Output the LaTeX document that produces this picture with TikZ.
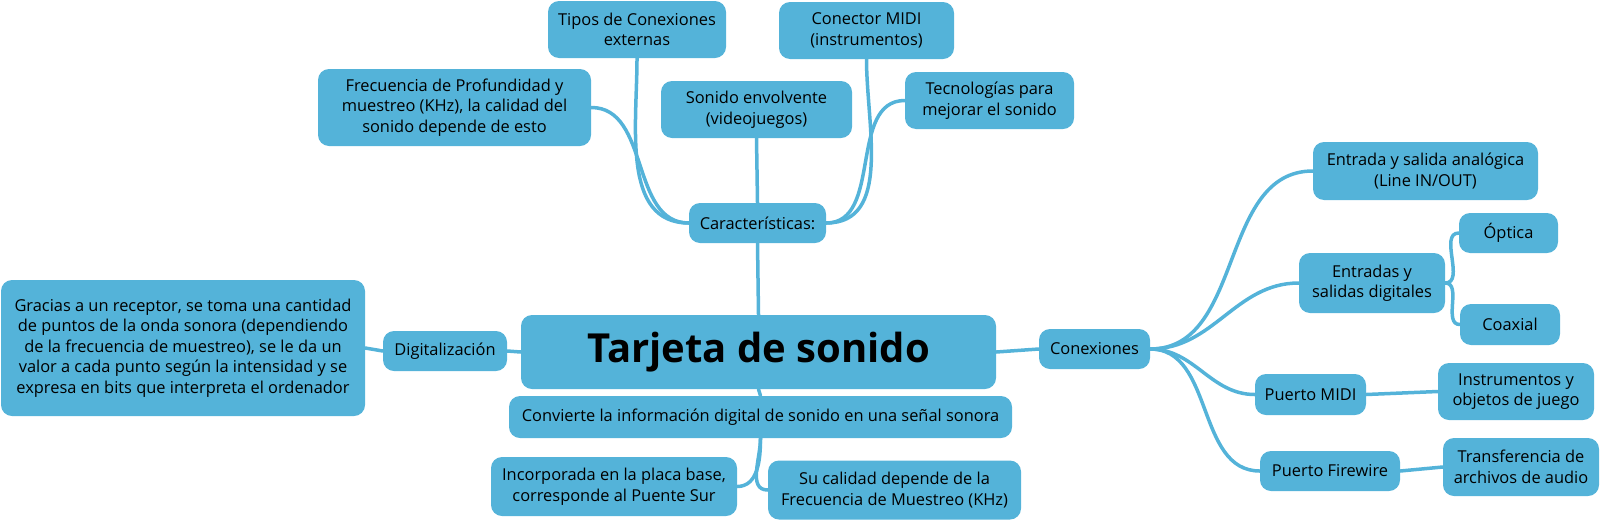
\documentclass[tikz,border=0pt]{standalone}
\usepackage{fontspec}
\setmainfont{Open Sans}
\usetikzlibrary{backgrounds}
\definecolor{mapblue}{RGB}{84,179,217}

\begin{document}
\begin{tikzpicture}[x=1pt,y=-1pt,font=\fontsize{16.4}{20.5}\selectfont,
  b/.style={fill=mapblue,rounded corners=11pt,align=center,inner sep=0pt},
  l/.style={draw=mapblue,line width=3.5pt,line cap=round}]
\useasboundingbox (0,0) rectangle (1602,520);
% center
\node[b,minimum width=475,minimum height=74,font=\fontsize{40}{44}\selectfont\bfseries] (t) at (758.5,352) {Tarjeta de sonido};
% caracteristicas
\node[b,minimum width=137,minimum height=40] (car) at (757.5,223) {Características:};
\node[b,minimum width=273,minimum height=77] (frec) at (454.5,107.5) {Frecuencia de Profundidad y\\muestreo (KHz), la calidad del\\sonido depende de esto};
\node[b,minimum width=178,minimum height=57] (tip) at (637,29.5) {Tipos de Conexiones\\externas};
\node[b,minimum width=191,minimum height=57] (env) at (756.5,109.5) {Sonido envolvente\\(videojuegos)};
\node[b,minimum width=175,minimum height=57] (cmidi) at (866.5,30.5) {Conector MIDI\\(instrumentos)};
\node[b,minimum width=169,minimum height=57] (tec) at (989.5,100.5) {Tecnologías para\\mejorar el sonido};
% abajo
\node[b,minimum width=503,minimum height=42] (conv) at (760.5,417) {Convierte la información digital de sonido en una señal sonora};
\node[b,minimum width=246,minimum height=59] (inc) at (614,486.5) {Incorporada en la placa base,\\corresponde al Puente Sur};
\node[b,minimum width=253,minimum height=59] (cal) at (894.5,490) {Su calidad depende de la\\Frecuencia de Muestreo (KHz)};
% izquierda
\node[b,minimum width=124,minimum height=40] (dig) at (445,351) {Digitalización};
\node[b,minimum width=364,minimum height=136] (grac) at (183,348) {Gracias a un receptor, se toma una cantidad\\de puntos de la onda sonora (dependiendo\\de la frecuencia de muestreo), se le da un\\valor a cada punto según la intensidad y se\\expresa en bits que interpreta el ordenador};
% derecha
\node[b,minimum width=111,minimum height=40] (con) at (1094.5,349) {Conexiones};
\node[b,minimum width=225,minimum height=58] (ana) at (1425.5,171) {Entrada y salida analógica\\(Line IN/OUT)};
\node[b,minimum width=146,minimum height=60] (dgt) at (1372,283) {Entradas y\\salidas digitales};
\node[b,minimum width=99,minimum height=40] (opt) at (1508.5,233) {Óptica};
\node[b,minimum width=100,minimum height=41] (coax) at (1510,324.5) {Coaxial};
\node[b,minimum width=111,minimum height=41] (pm) at (1310.5,394.5) {Puerto MIDI};
\node[b,minimum width=156,minimum height=57] (ins) at (1516,391.5) {Instrumentos y\\objetos de juego};
\node[b,minimum width=140,minimum height=40] (pf) at (1330,471) {Puerto Firewire};
\node[b,minimum width=156,minimum height=58] (tra) at (1521,467) {Transferencia de\\archivos de audio};
\begin{scope}[on background layer]
\draw[l] (t.north) -- (car.south);
\draw[l] (car.west) to[out=180,in=0] (frec.east);
\draw[l] (car.west) to[out=180,in=-90] (tip.south);
\draw[l] (car.north) -- (env.south);
\draw[l] (car.east) to[out=0,in=-90] (cmidi.south);
\draw[l] (car.east) to[out=0,in=180] (tec.west);
\draw[l] (t.south) -- (conv.north);
\draw[l] (conv.south) to[out=-90,in=0] (inc.east);
\draw[l] (conv.south) to[out=-90,in=180] (cal.west);
\draw[l] (t.west) -- (dig.east);
\draw[l] (dig.west) -- (grac.east);
\draw[l] (t.east) -- (con.west);
\draw[l] (con.east) to[out=0,in=180] (ana.west);
\draw[l] (con.east) to[out=0,in=180] (dgt.west);
\draw[l] (con.east) to[out=0,in=180] (pm.west);
\draw[l] (con.east) to[out=0,in=180] (pf.west);
\draw[l] (dgt.east) to[out=0,in=180] (opt.west);
\draw[l] (dgt.east) to[out=0,in=180] (coax.west);
\draw[l] (pm.east) -- (ins.west);
\draw[l] (pf.east) -- (tra.west);
\end{scope}
\end{tikzpicture}
\end{document}
